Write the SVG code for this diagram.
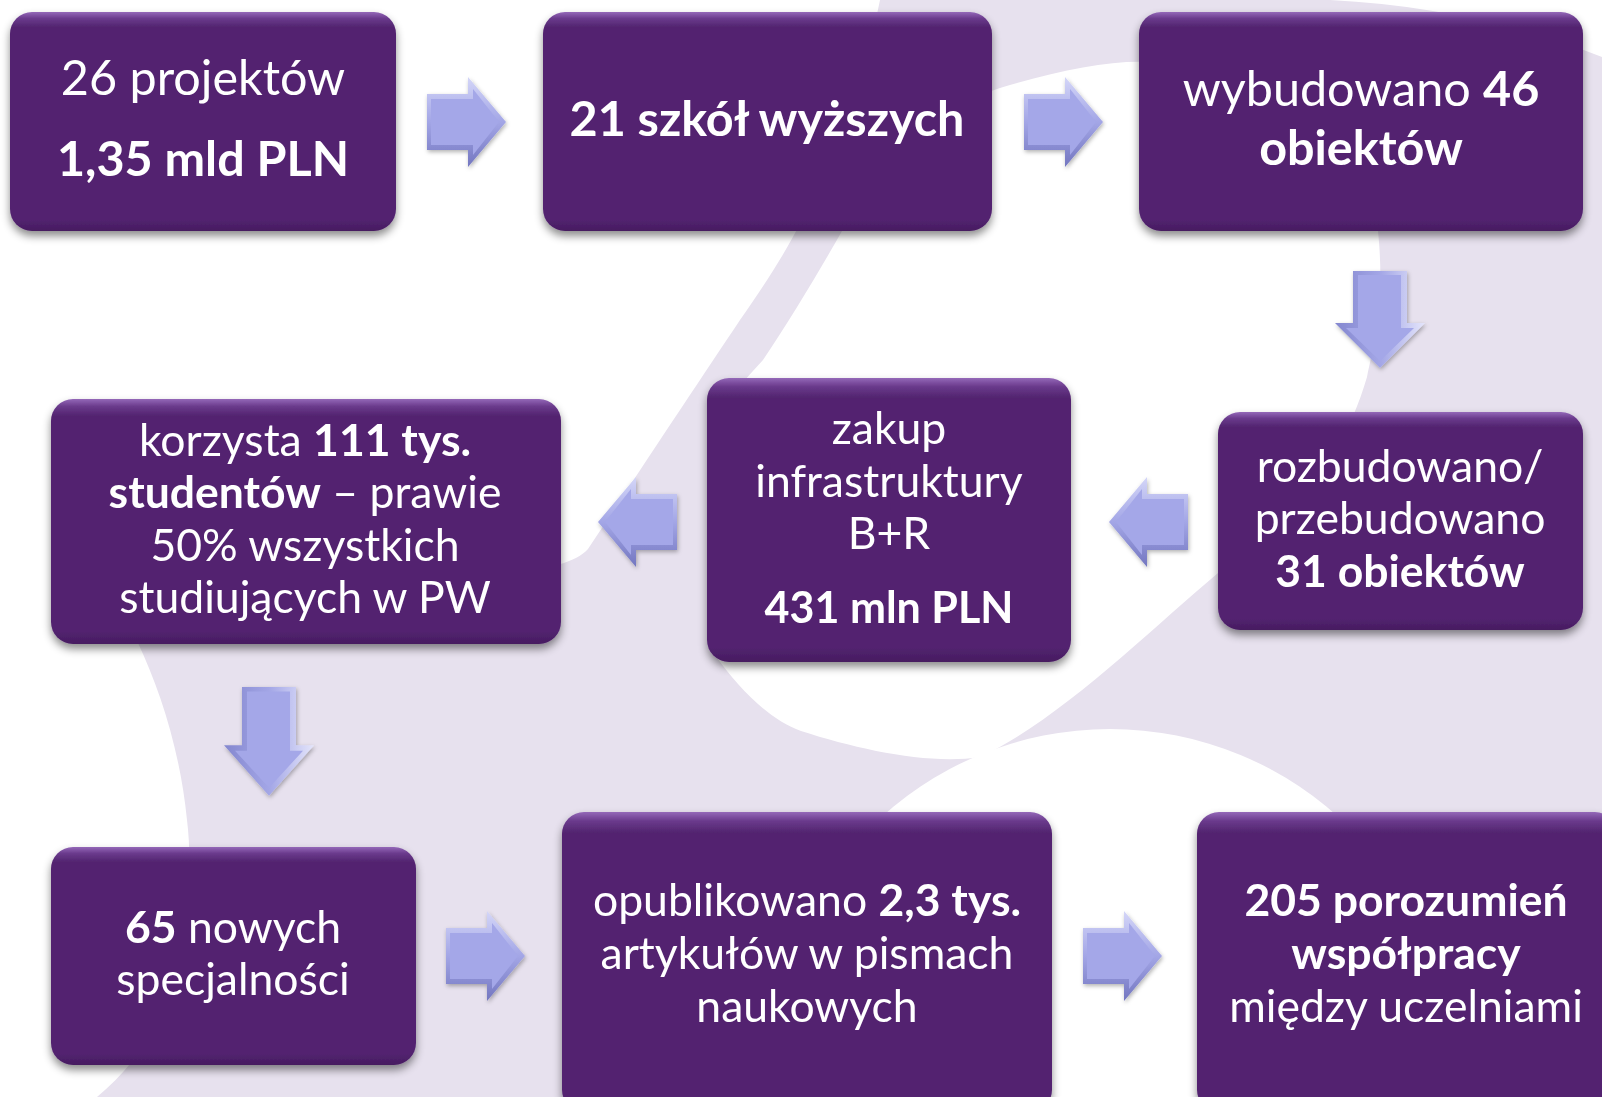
<svg xmlns="http://www.w3.org/2000/svg" width="1602" height="1097" viewBox="0 0 1602 1097">
<defs>
<style>
.box{fill:url(#boxGrad);filter:url(#shadow);}
.t{font-family:Lato,"Liberation Sans",sans-serif;font-size:44.5px;fill:#ffffff;text-anchor:middle;}
.big{font-size:48.5px;}
.b{font-weight:bold;}
.lav{fill:#e7e1ee;}
.wh{fill:#ffffff;}
</style>
<linearGradient id="boxGrad" x1="0" y1="0" x2="0" y2="1">
<stop offset="0" stop-color="#9468b8"/>
<stop offset="0.03" stop-color="#6a3a8c"/>
<stop offset="0.07" stop-color="#52246f"/>
<stop offset="0.95" stop-color="#52246f"/>
<stop offset="1" stop-color="#461a60"/>
</linearGradient>
<linearGradient id="bevH" x1="0" y1="0" x2="0" y2="1">
<stop offset="0" stop-color="#d4d6f8"/>
<stop offset="0.5" stop-color="#a3a6e6"/>
<stop offset="1" stop-color="#7376c0"/>
</linearGradient>
<linearGradient id="bevV" x1="0" y1="0" x2="1" y2="0">
<stop offset="0" stop-color="#8487cf"/>
<stop offset="0.5" stop-color="#a3a6e6"/>
<stop offset="1" stop-color="#e4e5fb"/>
</linearGradient>
<filter id="shadow" x="-10%" y="-10%" width="120%" height="125%">
<feDropShadow dx="0" dy="5" stdDeviation="4" flood-color="#000" flood-opacity="0.45"/>
</filter>
<filter id="ashadow" x="-20%" y="-20%" width="140%" height="140%">
<feDropShadow dx="1" dy="2" stdDeviation="2" flood-color="#000" flood-opacity="0.3"/>
</filter>
<g id="arrowR">
<path d="M0,17 H41 V0 L79,45 L41,90 V73 H0 Z" fill="url(#bevH)"/>
<path d="M4,22 H46 V12 L72,45 L46,78 V68 H4 Z" fill="#a4a7e8"/>
</g>
<g id="arrowD">
<path d="M18,0 H72 V52 H90 L45,97 L0,52 H18 Z" fill="url(#bevV)"/>
<path d="M23,4 H66 V57 H79 L45,90 L11,57 H23 Z" fill="#a4a7e8"/>
</g>
</defs>

<g id="background">
<rect x="0" y="0" width="1602" height="1097" fill="#ffffff"/>
<path class="lav" d="M880,0 H1602 V1097 H97 C130,1070 160,1030 175,980 C190,920 192,860 187,820 C180,750 160,690 138,643 C120,600 140,585 300,580 C450,575 560,580 588,549 C640,470 700,380 740,320 C775,270 800,230 820,180 C850,110 870,50 880,0 Z"/>
<path class="wh" d="M842,231 C870,170 930,110 1000,88 C1060,70 1110,60 1150,62 C1250,70 1370,150 1378,231 C1385,300 1375,340 1367,377 C1340,470 1280,530 1218,573 C1150,630 1060,720 980,757 C930,765 860,750 801,731 C770,720 740,690 715,655 L715,420 C730,395 745,380 763,360 C790,320 820,270 842,231 Z"/>
<circle class="wh" cx="1110" cy="1070" r="341"/>
<path class="wh" d="M1330,0 H1602 V57 C1520,25 1430,5 1330,0 Z"/>
</g>

<g id="connectors" filter="url(#ashadow)">
<use href="#arrowR" transform="translate(427,77)"/>
<use href="#arrowR" transform="translate(1024,77)"/>
<use href="#arrowD" transform="translate(1335,271)"/>
<use href="#arrowR" transform="translate(1188,477) scale(-1,1)"/>
<use href="#arrowR" transform="translate(677,477) scale(-1,1)"/>
<use href="#arrowD" transform="translate(224,687) scale(1,1.12)"/>
<use href="#arrowR" transform="translate(446,911)"/>
<use href="#arrowR" transform="translate(1083,911)"/>
</g>

<g id="node1">
<rect class="box" x="10" y="12" width="386" height="219" rx="22"/>
<text class="t big" x="203" y="95">26 projektów</text>
<text class="t big b" x="203" y="176">1,35 mld PLN</text>
</g>
<g id="node2">
<rect class="box" x="543" y="12" width="449" height="219" rx="22"/>
<text class="t big b" x="767" y="136">21 szkół wyższych</text>
</g>
<g id="node3">
<rect class="box" x="1139" y="12" width="444" height="219" rx="22"/>
<text class="t big" x="1361" y="106">wybudowano <tspan class="b">46</tspan></text>
<text class="t big b" x="1361" y="165">obiektów</text>
</g>
<g id="node4">
<rect class="box" x="1218" y="412" width="365" height="218" rx="22"/>
<text class="t" x="1400" y="482">rozbudowano/</text>
<text class="t" x="1400" y="534">przebudowano</text>
<text class="t b" x="1400" y="587">31 obiektów</text>
</g>
<g id="node5">
<rect class="box" x="707" y="378" width="364" height="284" rx="22"/>
<text class="t" x="889" y="444">zakup</text>
<text class="t" x="889" y="497">infrastruktury</text>
<text class="t" x="889" y="549">B+R</text>
<text class="t b" x="889" y="623" style="font-size:43px">431 mln PLN</text>
</g>
<g id="node6">
<rect class="box" x="51" y="399" width="510" height="245" rx="22"/>
<text class="t" x="305" y="456">korzysta <tspan class="b">111 tys.</tspan></text>
<text class="t" x="305" y="508"><tspan class="b">studentów</tspan> – prawie</text>
<text class="t" x="305" y="561">50% wszystkich</text>
<text class="t" x="305" y="613">studiujących w PW</text>
</g>
<g id="node7">
<rect class="box" x="51" y="847" width="365" height="218" rx="22"/>
<text class="t" x="233" y="943"><tspan class="b">65</tspan> nowych</text>
<text class="t" x="233" y="995">specjalności</text>
</g>
<g id="node8">
<rect class="box" x="562" y="812" width="490" height="300" rx="22"/>
<text class="t" x="807" y="916">opublikowano <tspan class="b">2,3 tys.</tspan></text>
<text class="t" x="807" y="969">artykułów w pismach</text>
<text class="t" x="807" y="1022">naukowych</text>
</g>
<g id="node9">
<rect class="box" x="1197" y="812" width="420" height="300" rx="22"/>
<text class="t b" x="1406" y="916">205 porozumień</text>
<text class="t b" x="1406" y="969">współpracy</text>
<text class="t" x="1406" y="1022">między uczelniami</text>
</g>
</svg>
